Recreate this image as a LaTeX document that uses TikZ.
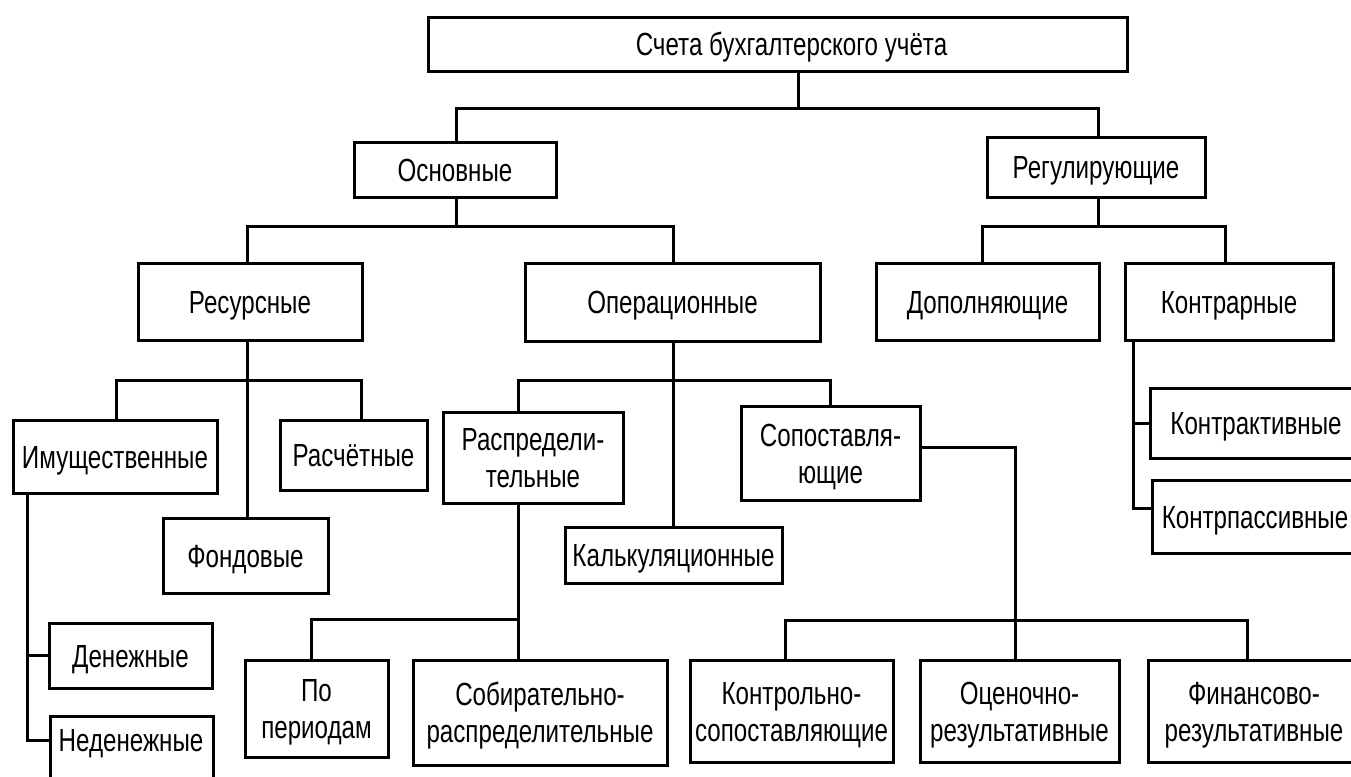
\documentclass[tikz,border=0pt]{standalone}
\usepackage{fontspec}
\setmainfont{Liberation Sans}[FakeStretch=0.755]
\tikzset{
  box/.style={draw=black, line width=3pt, fill=white, inner sep=0pt, align=center,
    font=\fontsize{32}{37}\selectfont},
  conn/.style={draw=black, line width=3pt, line join=miter}
}
\newcommand\vs{\rule[-7pt]{0pt}{37pt}}
\newcommand\vt{\rule{0pt}{30pt}}
\newcommand\vb{\rule[-7pt]{0pt}{7pt}}
\newcommand\bx[6]{\node[box, minimum width={#4-#2}, minimum height={#5-#3}] (#1) at ({(#2+#4)/2},{(#3+#5)/2}) {#6};}
\begin{document}
\begin{tikzpicture}[x=1pt,y=-1pt]
\useasboundingbox (0,0) rectangle (1351,776);
\fill[white] (0,0) rectangle (1351,776);
% boxes
\bx{top}{428}{18}{1127}{71}{\vs\hspace*{28pt}Счета бухгалтерского учёта}
\bx{osn}{354}{142}{556}{197}{\vs Основные}
\bx{reg}{987}{137}{1205}{197}{\vs Регулирующие}
\bx{res}{138}{263}{362}{340}{\vs Ресурсные}
\bx{oper}{525}{263}{820}{341}{\vs Операционные}
\bx{dop}{876}{263}{1099}{340}{\vs Дополняющие}
\bx{kontr}{1125}{263}{1333}{340}{\vs Контрарные}
\bx{imush}{13}{420}{217}{493}{\vs Имущественные}
\bx{rasch}{280}{420}{427}{490}{\vs Расчётные}
\bx{raspr}{443}{412}{623}{503}{\vt Распредели-\\тельные\vb}
\bx{sopost}{741}{406}{920}{500}{\vt Сопоставля-\\ющие\vb}
\bx{fond}{163}{518}{328}{593}{\vs Фондовые}
\bx{kalk}{565}{527}{782}{583}{\vs Калькуляционные}
\bx{den}{49}{623}{212}{688}{\vs Денежные}
\node[box, minimum width=163, minimum height=90, anchor=north west] (neden) at (49,715) {};
\node[font=\fontsize{32}{37}\selectfont, inner sep=0pt] (nedent) at (131,740) {\vs Неденежные};
\bx{kakt}{1150}{388}{1362}{458}{\vs Контрактивные}
\bx{kpas}{1152}{480}{1358}{553}{\vs Контрпассивные}
\bx{poper}{245}{660}{388}{757}{\vt По\\периодам\vb}
\bx{sobir}{413}{660}{667}{765}{\vt Собирательно-\\распределительные\vb}
\bx{kontsop}{690}{660}{893}{762}{\vt Контрольно-\\сопоставляющие\vb}
\bx{ocen}{920}{660}{1119}{762}{\vt Оценочно-\\результативные\vb}
\bx{fin}{1148}{660}{1360}{762}{\vt Финансово-\\результативные\vb}
% bus coordinates
\coordinate (b1) at (798,108);
\coordinate (b2) at (456,226);
\coordinate (b3) at (1098,226);
\coordinate (b4) at (247,380);
\coordinate (b5) at (673,380);
\coordinate (b6) at (518,619);
\coordinate (b7) at (1015,620);
\coordinate (b8) at (27,0);
\coordinate (b9) at (1133,0);
% connectors
\draw[conn] (top.south -| b1) -- (b1);
\draw[conn] (osn.north -| b2) -- (b2 |- b1) -- (b3 |- b1) -- (reg.north -| b3);
\draw[conn] (osn.south -| b2) -- (b2);
\draw[conn] (res.north -| b4) -- (b4 |- b2) -- (b5 |- b2) -- (oper.north -| b5);
\draw[conn] (reg.south -| b3) -- (b3);
\draw[conn] (dop.north -| 982,0) -- (982,226) -- (1225,226) -- (kontr.north -| 1225,0);
\draw[conn] (res.south -| b4) -- (fond.north -| b4);
\draw[conn] (imush.north -| 116,0) -- (116,380) -- (361,380) -- (rasch.north -| 361,0);
\draw[conn] (oper.south -| b5) -- (kalk.north -| b5);
\draw[conn] (raspr.north -| b6) -- (b6 |- b4) -- (830,380) -- (sopost.north -| 830,0);
\draw[conn] (imush.south -| b8) -- (nedent.west -| b8) -- (neden.west |- nedent.west);
\draw[conn] (den.west -| b8) -- (den.west);
\draw[conn] (raspr.south -| b6) -- (sobir.north -| b6);
\draw[conn] (b6) -- (311,619) -- (poper.north -| 311,0);
\draw[conn] (sopost.east |- 0,447) -- (b7 |- 0,447) -- (ocen.north -| b7);
\draw[conn] (kontsop.north -| 785,0) -- (785,620) -- (1247,620) -- (fin.north -| 1247,0);
\draw[conn] (kontr.south -| b9) -- (b9 |- 0,508) -- (kpas.west |- 0,508);
\draw[conn] (b9 |- kakt.west) -- (kakt.west);
\end{tikzpicture}
\end{document}
